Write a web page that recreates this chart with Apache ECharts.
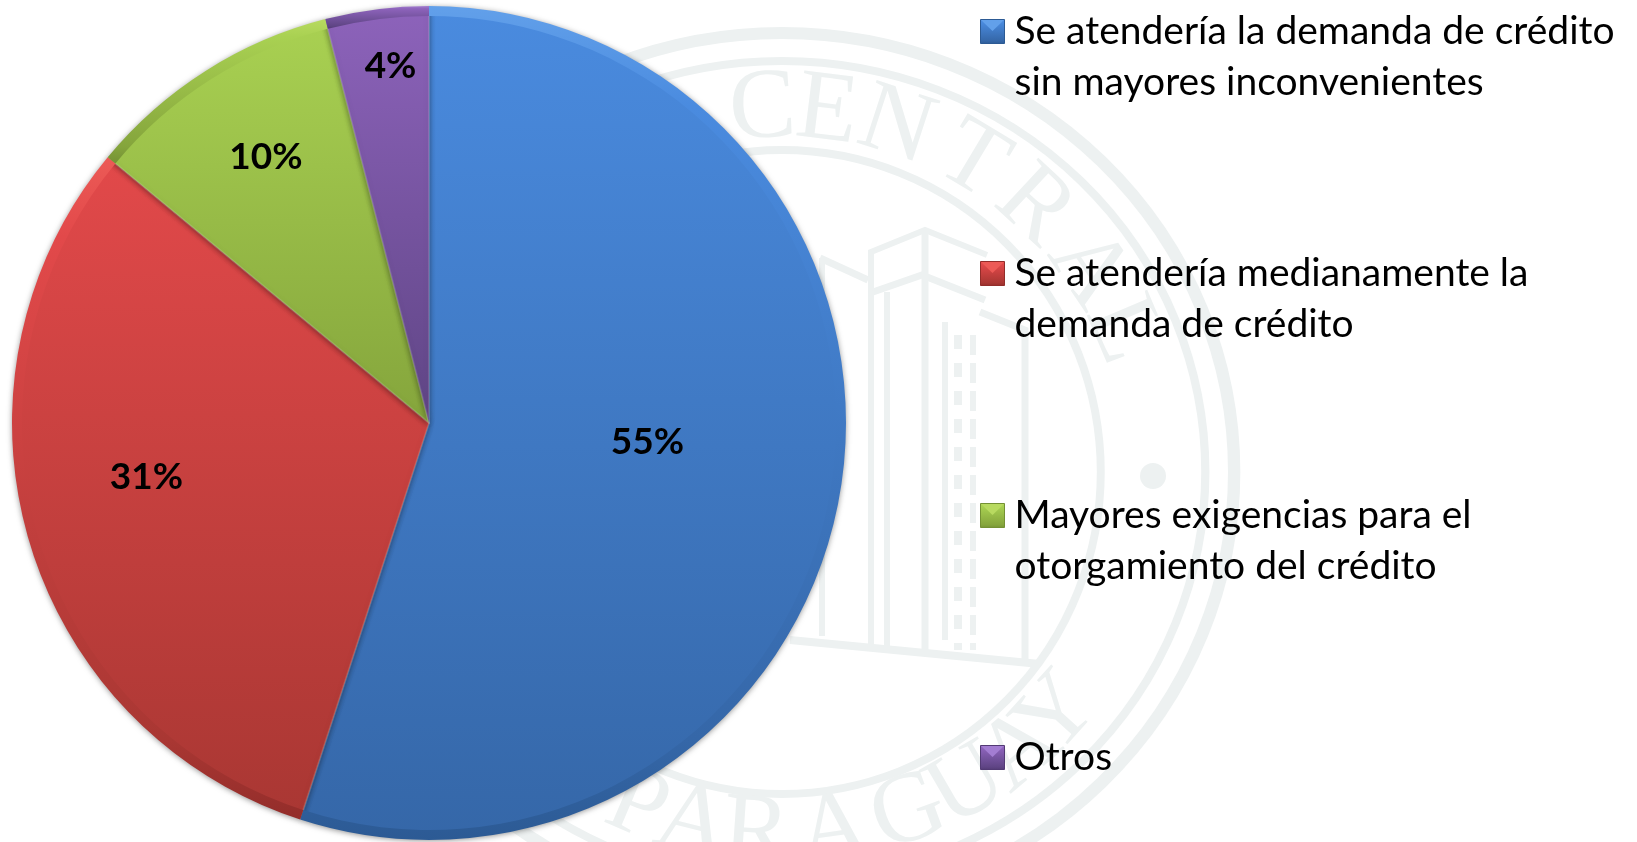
<!DOCTYPE html>
<html>
<head>
<meta charset="utf-8">
<title>Demanda de crédito</title>
<script src="https://cdn.jsdelivr.net/npm/echarts@6/dist/echarts.min.js"></script>
<style>
  html, body { margin: 0; padding: 0; background: #fff; }
  #main { width: 1637px; height: 842px; }
</style>
</head>
<body>
<div id="main"></div>
<script>
    var categories = [
        'Se atendería la demanda de crédito',
        'Se atendería medianamente la',
        'Mayores exigencias para el',
        'Otros'
    ];
    // second line of each legend entry
    var secondLines = ['sin mayores inconvenientes', 'demanda de crédito', 'otorgamiento del crédito', ' '];
    var values = [55, 31, 10, 4];

    // [light, base top, base bottom, dark]
    var palette = [
        ['#62a0ea', '#4a8bdf', '#3567a8', '#2c5a94'],
        ['#ec5a56', '#e2494a', '#a93733', '#932d2a'],
        ['#b8da60', '#a9d152', '#85a53c', '#749134'],
        ['#a37dd2', '#8d63bb', '#5f4585', '#523a74']
    ];
    var labelOffsets = [[10, -14], [-80, -5], [-50, -88], [-12, -148]];
    var markerTops = [19, 261, 503, 745];

    var sealColor = '#edf1f1';
    var sealCenter = [782, 472];
    var topLetters = ['C', 'E', 'N', 'T', 'R', 'A', 'L'];
    var topAngles = [-3, 7, 18, 31, 43, 56, 67];
    var bottomLetters = ['P', 'A', 'R', 'A', 'G', 'U', 'A', 'Y'];
    var bottomAngles = [-23, -14, -4, 8, 20, 30, 40, 48];

    function vGrad(c0, c1, c2, c3) {
        return new echarts.graphic.LinearGradient(0, 0, 0, 1, [
            { offset: 0, color: c0 },
            { offset: 0.12, color: c1 },
            { offset: 0.88, color: c2 },
            { offset: 1, color: c3 }
        ]);
    }

    function sealLine(points, width) {
        return {
            type: 'polyline',
            silent: true,
            shape: { points: points },
            style: { stroke: sealColor, lineWidth: width || 6, fill: null }
        };
    }

    function sealRing(r, width, sx) {
        return {
            type: 'circle',
            silent: true,
            x: sealCenter[0], y: sealCenter[1],
            scaleX: sx,
            shape: { cx: 0, cy: 0, r: r },
            style: { stroke: sealColor, lineWidth: width, fill: null }
        };
    }

    function sealDash(x, width, dash) {
        return {
            type: 'line', silent: true,
            shape: { x1: x, y1: 335, x2: x, y2: 650 },
            style: { stroke: sealColor, lineWidth: width, lineDash: dash }
        };
    }

    function sealLetter(ch, angle, r, top) {
        var rad = angle * Math.PI / 180;
        var x = sealCenter[0] + 1.02 * r * Math.sin(rad);
        var y = sealCenter[1] + (top ? -1 : 1) * r * Math.cos(rad);
        return {
            type: 'text',
            silent: true,
            x: x, y: y,
            rotation: top ? -rad : rad,
            style: {
                text: ch, fill: sealColor, align: 'center', verticalAlign: 'middle',
                font: '100px "Liberation Serif"'
            }
        };
    }

    var graphics = [
        sealRing(439, 12, 1.03), sealRing(411, 8, 1.03), sealRing(322, 8, 0.99),
        { type: 'circle', silent: true, shape: { cx: 1153, cy: 476, r: 13 }, style: { fill: sealColor } },
        // building
        sealLine([[790, 640], [1040, 664]], 8),
        sealLine([[871, 645], [871, 252], [925, 230], [987, 255]]),
        sealLine([[873, 292], [922, 275], [985, 300]], 7),
        sealLine([[887, 646], [887, 292]]),
        sealLine([[925, 652], [925, 232]], 7),
        sealLine([[820, 258], [868, 280]], 7),
        sealLine([[822, 636], [822, 258]], 6),
        sealLine([[980, 312], [1025, 330], [1025, 660]], 7),
        sealLine([[945, 322], [945, 640]], 6),
        sealDash(958, 8, [14, 14]),
        sealDash(973, 6, [20, 8])
    ];
    topLetters.forEach(function (ch, i) {
        graphics.push(sealLetter(ch, topAngles[i], 362, true));
    });
    bottomLetters.forEach(function (ch, i) {
        graphics.push(sealLetter(ch, bottomAngles[i], 364, false));
    });

    var pieData = [];
    var rimData = [];
    var legendData = [];
    categories.forEach(function (name, i) {
        var c = palette[i];
        pieData.push({
            name: name,
            value: values[i],
            itemStyle: { color: new echarts.graphic.LinearGradient(0, 0, 0, 1, [
                { offset: 0, color: c[1] },
                { offset: 1, color: c[2] }
            ]) },
            label: { offset: labelOffsets[i] }
        });
        rimData.push({
            name: name,
            value: values[i],
            itemStyle: { color: vGrad(c[0], c[1], c[2], c[3]) }
        });
        legendData.push({
            name: name,
            itemStyle: {
                color: vGrad(c[1], c[1], c[2], c[3]),
                borderColor: c[3],
                borderWidth: 1
            }
        });
        // bevel on the legend marker
        graphics.push({
            type: 'polygon',
            silent: true,
            z: 10,
            shape: { points: [[981, markerTops[i] + 1], [1004, markerTops[i] + 1], [992.5, markerTops[i] + 12]] },
            style: { fill: c[0] }
        });
    });

    var myChart = echarts.init(document.getElementById('main'));
    var option = {
        backgroundColor: '#fff',
        animation: false,
        graphic: graphics,
        legend: {
            orient: 'vertical',
            left: 980,
            top: -45,
            padding: 0,
            icon: 'rect',
            itemWidth: 24,
            itemHeight: 24,
            itemGap: 89,
            selectedMode: false,
            data: legendData,
            formatter: function (name) {
                // blank first line keeps the marker level with the first text line
                return ' \n' + name + '\n' + secondLines[categories.indexOf(name)];
            },
            textStyle: {
                color: '#000',
                fontFamily: 'Lato',
                fontSize: 39,
                lineHeight: 51,
                padding: [0, 0, 0, 5]
            }
        },
        series: [
            {
                name: 'Demanda',
                type: 'pie',
                center: [429, 423],
                radius: [0, 416],
                startAngle: 90,
                clockwise: true,
                silent: true,
                avoidLabelOverlap: false,
                data: pieData,
                itemStyle: {
                    borderWidth: 2,
                    borderColor: 'rgba(255,255,255,0.12)',
                    shadowColor: 'rgba(0,0,0,0.5)',
                    shadowBlur: 6,
                    shadowOffsetY: 1
                },
                label: {
                    show: true,
                    position: 'inner',
                    formatter: '{c}%',
                    color: '#000',
                    fontFamily: 'Lato',
                    fontWeight: 'bold',
                    fontSize: 37
                },
                labelLine: { show: false }
            },
            {
                name: 'Borde',
                type: 'pie',
                center: [429, 423],
                radius: [407, 417],
                startAngle: 90,
                clockwise: true,
                silent: true,
                data: rimData,
                label: { show: false },
                labelLine: { show: false }
            }
        ]
    };
    myChart.setOption(option);
</script>
</body>
</html>
